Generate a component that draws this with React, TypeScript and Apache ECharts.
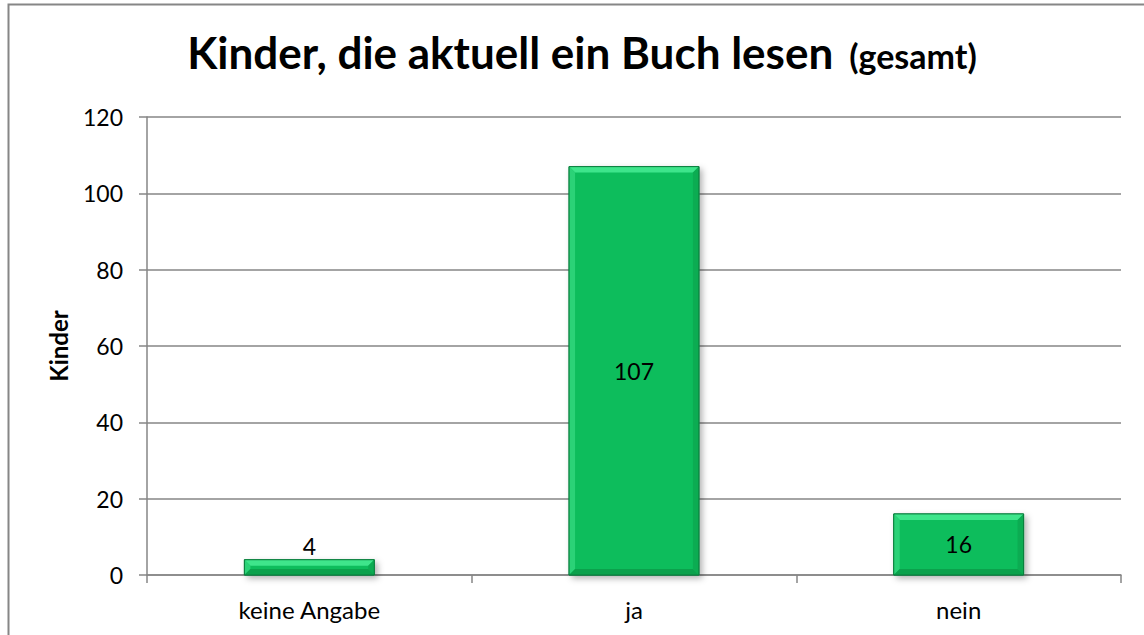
import React, { useEffect, useRef } from "react";
import * as echarts from "echarts";

const categories = ["keine Angabe", "ja", "nein"];
const values = [4, 107, 16];
const yMin = 0;
const yMax = 120;
const yInterval = 20;
const titleMain = "Kinder, die aktuell ein Buch lesen";
const titleSub = "(gesamt)";
const yAxisName = "Kinder";

export default function App() {
  const ref = useRef<HTMLDivElement>(null);
  useEffect(() => {
    const chart = echarts.init(ref.current!, null, { renderer: "svg" });
    const font = "Lato";
    const option: any = {
      animation: false,
      backgroundColor: "#ffffff",
      graphic: [
        {
          type: "rect",
          silent: true,
          z: -10,
          shape: { x: 8.5, y: 4.5, width: 1200, height: 700 },
          style: { fill: "none", stroke: "#868686", lineWidth: 2 },
        },
        {
          type: "text",
          x: 582,
          y: 52,
          style: {
            text: `{a|${titleMain}}{b|${titleSub}}`,
            align: "center",
            verticalAlign: "middle",
            rich: {
              a: { fontFamily: font, fontWeight: "bold", fontSize: 44, fill: "#000", verticalAlign: "bottom" },
              b: {
                fontFamily: font,
                fontWeight: "bold",
                fontSize: 34,
                fill: "#000",
                padding: [0, 0, 2, 16],
                verticalAlign: "bottom",
              },
            },
          },
        },
      ],
      grid: { left: 147, top: 117, width: 974, height: 458 },
      xAxis: {
        type: "category",
        data: categories,
        axisLine: { lineStyle: { color: "#868686", width: 1.5 } },
        axisTick: { show: true, length: 8, lineStyle: { color: "#868686", width: 1.5 } },
        axisLabel: { color: "#000", fontFamily: font, fontSize: 24, margin: 22 },
        splitLine: { show: false },
      },
      yAxis: {
        type: "value",
        min: yMin,
        max: yMax,
        interval: yInterval,
        name: yAxisName,
        nameLocation: "middle",
        nameRotate: 90,
        nameGap: 77,
        nameTextStyle: { color: "#000", fontFamily: font, fontWeight: "bold", fontSize: 24 },
        axisLine: { show: true, lineStyle: { color: "#868686", width: 1.5 } },
        axisTick: { show: true, length: 8, lineStyle: { color: "#868686", width: 1.5 } },
        axisLabel: { color: "#000", fontFamily: font, fontSize: 23, margin: 24 },
        splitLine: { show: true, lineStyle: { color: "#868686", width: 1.5 } },
      },
      series: [
        {
          type: "custom",
          data: values.map((v, i) => [i, v]),
          encode: { x: 0, y: 1 },
          renderItem: (params: any, api: any) => {
            const idx = api.value(0);
            const v = api.value(1);
            const top = api.coord([idx, v]);
            const base = api.coord([idx, 0]);
            const band = api.size([1, 0])[0];
            const w = band * 0.4;
            const x0 = top[0] - w / 2;
            const x1 = top[0] + w / 2;
            const y0 = top[1];
            const y1 = base[1];
            const b = Math.min(6, (y1 - y0) / 2, w / 2);
            const h = y1 - y0;
            const inside = h > 30;
            return {
              type: "group",
              children: [
                {
                  type: "rect",
                  shape: { x: x0, y: y0, width: w, height: h },
                  style: {
                    fill: "#10bd5c",
                    stroke: "#0b8a43",
                    lineWidth: 1,
                    shadowBlur: 6,
                    shadowOffsetX: 3,
                    shadowOffsetY: 3,
                    shadowColor: "rgba(0,0,0,0.3)",
                  },
                },
                {
                  type: "polygon",
                  shape: { points: [[x0, y0], [x1, y0], [x1 - b, y0 + b], [x0 + b, y0 + b]] },
                  style: { fill: "#3ee58b" },
                },
                {
                  type: "polygon",
                  shape: { points: [[x0, y0], [x0 + b, y0 + b], [x0 + b, y1 - b], [x0, y1]] },
                  style: { fill: "#2bd277" },
                },
                {
                  type: "polygon",
                  shape: { points: [[x1, y0], [x1, y1], [x1 - b, y1 - b], [x1 - b, y0 + b]] },
                  style: { fill: "#0cac52" },
                },
                {
                  type: "polygon",
                  shape: { points: [[x0, y1], [x1, y1], [x1 - b, y1 - b], [x0 + b, y1 - b]] },
                  style: { fill: "#0ba14c" },
                },
                {
                  type: "rect",
                  shape: { x: x0, y: y0, width: w, height: h },
                  style: { fill: "none", stroke: "#0b7d3d", lineWidth: 1 },
                },
                {
                  type: "text",
                  style: {
                    text: String(v),
                    x: top[0],
                    y: inside ? (y0 + y1) / 2 : y0 - 2,
                    align: "center",
                    verticalAlign: inside ? "middle" : "bottom",
                    fontFamily: font,
                    fontSize: 23,
                    fill: "#000",
                  },
                },
              ],
            };
          },
        },
      ],
    };
    chart.setOption(option);
    return () => chart.dispose();
  }, []);
  return (
    <div
      ref={ref}
      style={{ position: "fixed", left: 0, top: 0, width: 1144, height: 635, background: "#fff" }}
    />
  );
}
